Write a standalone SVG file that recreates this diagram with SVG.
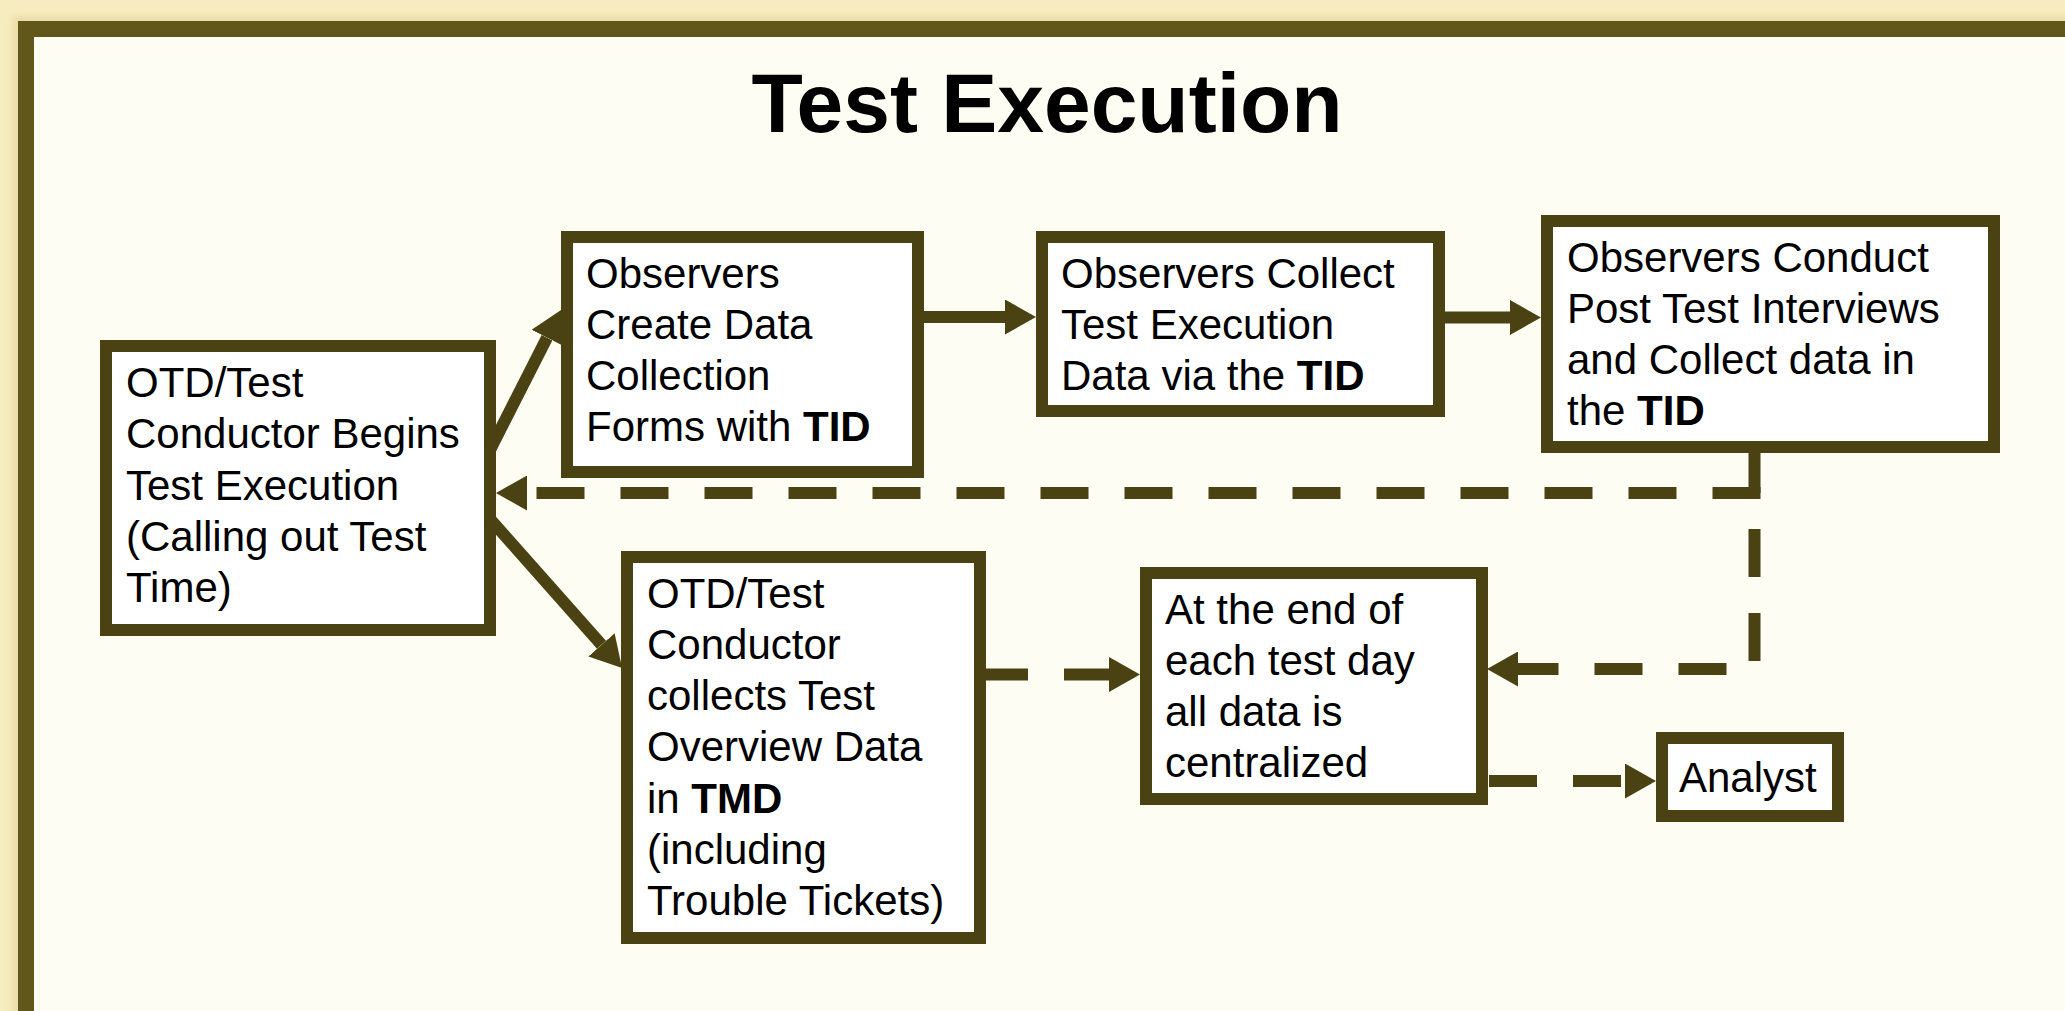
<svg xmlns="http://www.w3.org/2000/svg" width="2065" height="1011" viewBox="0 0 2065 1011">
<style>
.box{fill:#FFFFFF;stroke:#4B4213;stroke-width:12}
.t{font-family:"Liberation Sans",Arial,sans-serif;font-size:42px;fill:#000}
.b{font-weight:bold}
.ln{fill:none;stroke:#4B4213;stroke-width:12}
.dash{stroke-dasharray:48 36}
</style>
<defs>
<marker id="ah" markerUnits="userSpaceOnUse" markerWidth="31" markerHeight="35" viewBox="0 0 31 35" refX="0" refY="17.5" orient="auto">
<path d="M0,0 L31,17.5 L0,35 z" fill="#4B4213"/>
</marker>
<filter id="sh" x="-5%" y="-5%" width="110%" height="110%"><feGaussianBlur stdDeviation="3"/></filter>
</defs>
<rect x="0" y="0" width="2065" height="1011" fill="#F7ECBF"/>
<rect x="13" y="16" width="2100" height="1100" fill="#E9DCA8" filter="url(#sh)"/>
<rect id="frame" x="26" y="29" width="2100" height="1100" fill="#FDFDF3" stroke="#62571A" stroke-width="16"/>
<text id="title" x="1047" y="132" text-anchor="middle" font-family="'Liberation Sans',Arial,sans-serif" font-size="84" font-weight="bold" fill="#000">Test Execution</text>

<g id="n1">
<rect class="box" x="106" y="346" width="384" height="284"/>
<text class="t" x="126" y="397">OTD/Test</text>
<text class="t" x="126" y="448">Conductor Begins</text>
<text class="t" x="126" y="499.5">Test Execution</text>
<text class="t" x="126" y="550.5">(Calling out Test</text>
<text class="t" x="126" y="602">Time)</text>
</g>
<g id="n2">
<rect class="box" x="567" y="237" width="351" height="235"/>
<text class="t" x="586" y="287.5">Observers</text>
<text class="t" x="586" y="338.5">Create Data</text>
<text class="t" x="586" y="390">Collection</text>
<text class="t" x="586" y="441">Forms with <tspan class="b">TID</tspan></text>
</g>
<g id="n3">
<rect class="box" x="1042" y="237" width="397" height="174"/>
<text class="t" x="1061" y="287.5">Observers Collect</text>
<text class="t" x="1061" y="338.5">Test Execution</text>
<text class="t" x="1061" y="390">Data via the <tspan class="b">TID</tspan></text>
</g>
<g id="n4">
<rect class="box" x="1547" y="221" width="447" height="226"/>
<text class="t" x="1567" y="271.5">Observers Conduct</text>
<text class="t" x="1567" y="322.5">Post Test Interviews</text>
<text class="t" x="1567" y="374">and Collect data in</text>
<text class="t" x="1567" y="425">the <tspan class="b">TID</tspan></text>
</g>
<g id="n5">
<rect class="box" x="627" y="557" width="353" height="381"/>
<text class="t" x="647" y="607.5">OTD/Test</text>
<text class="t" x="647" y="658.5">Conductor</text>
<text class="t" x="647" y="710">collects Test</text>
<text class="t" x="647" y="761">Overview Data</text>
<text class="t" x="647" y="812.5">in <tspan class="b">TMD</tspan></text>
<text class="t" x="647" y="863.5">(including</text>
<text class="t" x="647" y="914.5">Trouble Tickets)</text>
</g>
<g id="n6">
<rect class="box" x="1146" y="573" width="336" height="226"/>
<text class="t" x="1165" y="623.5">At the end of</text>
<text class="t" x="1165" y="675">each test day</text>
<text class="t" x="1165" y="726">all data is</text>
<text class="t" x="1165" y="777">centralized</text>
</g>
<g id="n7">
<rect class="box" x="1662" y="738" width="176" height="78"/>
<text class="t" x="1679" y="792">Analyst</text>
</g>

<g id="connectors">
<path class="ln" d="M490,450 L547,337.7" marker-end="url(#ah)"/>
<path class="ln" d="M490,519 L601.5,644.8" marker-end="url(#ah)"/>
<path class="ln" d="M918,317 H1005" marker-end="url(#ah)"/>
<path class="ln" d="M1439,317.5 H1510" marker-end="url(#ah)"/>
<path class="ln dash" d="M1760.5,493 H527" marker-end="url(#ah)"/>
<path class="ln dash" stroke-dashoffset="8" d="M1754.5,453 V669 H1518" marker-end="url(#ah)"/>
<path class="ln dash" d="M980,674.5 H1109" marker-end="url(#ah)"/>
<path class="ln dash" d="M1489,781 H1625" marker-end="url(#ah)"/>
</g>
</svg>
